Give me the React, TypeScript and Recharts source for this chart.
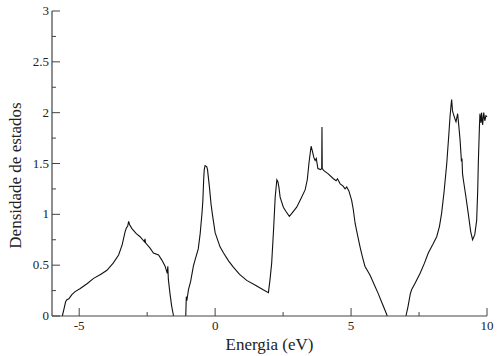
import { Label, Line, LineChart, XAxis, YAxis } from "recharts";

// energy (eV) and density of states, null marks a gap between bands
const energy = [
  -5.62, -5.55, -5.5, -5.45, -5.38, -5.27, -5.15, -4.96, -4.7, -4.47, -4.2, -3.98, -3.75, -3.55, -3.42, -3.31,
  -3.26, -3.22, -3.18, -3.15, -3.06, -2.9, -2.76, -2.6, -2.58, -2.56, -2.4, -2.27, -2.08, -1.96, -1.84, -1.76,
  -1.74, -1.72, -1.66, -1.6, -1.53, -1.3,
  -1.08, -1.06, -1.04, -0.98, -0.9, -0.8, -0.74, -0.62, -0.55, -0.48, -0.45, -0.42, -0.4, -0.37, -0.31, -0.28,
  -0.21, -0.15, -0.1, 0.0, 0.18, 0.31, 0.5, 0.67, 0.9, 1.16, 1.5, 1.75, 1.96, 2.02, 2.08, 2.15, 2.21, 2.27,
  2.31, 2.35, 2.39, 2.51, 2.6, 2.73, 2.85, 3.0, 3.15, 3.31, 3.39, 3.45, 3.53, 3.58, 3.63, 3.68, 3.72, 3.78,
  3.88, 3.92, 3.93, 3.94, 4.0, 4.15, 4.35, 4.45, 4.5, 4.6, 4.7, 4.78, 4.84, 4.92, 5.02, 5.08, 5.15, 5.25,
  5.33, 5.42, 5.51, 5.7, 5.85, 6.0, 6.15, 6.29, 6.33, 6.7,
  7.02, 7.1, 7.18, 7.23, 7.35, 7.54, 7.7, 7.84, 8.0, 8.15, 8.25, 8.33, 8.42, 8.52, 8.6, 8.64, 8.68, 8.7,
  8.73, 8.76, 8.82, 8.86, 8.92, 8.96, 9.01, 9.06, 9.08, 9.1, 9.13, 9.22, 9.31, 9.4, 9.47, 9.55, 9.62, 9.66,
  9.68, 9.72, 9.74, 9.78, 9.8, 9.84, 9.88, 9.92, 9.96, 10.0,
];

const dos = [
  0, 0.08, 0.14, 0.16, 0.17, 0.21, 0.24, 0.27, 0.32, 0.37, 0.41, 0.45, 0.52, 0.6, 0.7, 0.83,
  0.87, 0.88, 0.93, 0.9, 0.86, 0.81, 0.78, 0.73, 0.76, 0.72, 0.67, 0.62, 0.6, 0.55, 0.49, 0.42,
  0.49, 0.36, 0.22, 0.1, 0, null,
  0, 0.19, 0.15, 0.26, 0.34, 0.49, 0.55, 0.66, 0.81, 1.02, 1.14, 1.35, 1.44, 1.48, 1.47, 1.44,
  1.27, 1.1, 1.0, 0.82, 0.68, 0.62, 0.54, 0.48, 0.41, 0.35, 0.3, 0.26, 0.23, 0.36, 0.52, 0.85, 1.17, 1.34,
  1.32, 1.26, 1.17, 1.07, 1.03, 0.98, 1.02, 1.07, 1.15, 1.24, 1.34, 1.5, 1.67, 1.62, 1.56, 1.53, 1.55, 1.45,
  1.44, 1.45, 1.86, 1.45, 1.43, 1.4, 1.35, 1.33, 1.35, 1.3, 1.28, 1.25, 1.27, 1.23, 1.14, 1.05, 0.91, 0.78,
  0.68, 0.58, 0.49, 0.4, 0.31, 0.22, 0.12, 0.03, 0, null,
  0, 0.1, 0.22, 0.26, 0.32, 0.42, 0.52, 0.62, 0.7, 0.78, 0.88, 1.01, 1.22, 1.5, 1.8, 1.96, 2.08, 2.13,
  2.02, 1.99, 1.94, 1.91, 1.99, 1.88, 1.73, 1.52, 1.55, 1.4, 1.34, 1.18, 1.01, 0.83, 0.75, 0.8, 0.94, 1.25,
  1.5, 1.85, 1.99, 1.9, 2.0, 1.88, 2.0, 1.92, 1.97, 1.96,
];

const xTicks = [-5, -2.5, 0, 2.5, 5, 7.5, 10];
const yTicks = [0, 0.25, 0.5, 0.75, 1, 1.25, 1.5, 1.75, 2, 2.25, 2.5, 2.75, 3];

const data = energy.map((e, i) => ({ e, d: dos[i] }));

const tickStyle = { fontFamily: "'Liberation Serif', 'Times New Roman', serif", fontSize: 13, fill: "#222" };

const isMajor = (v: number) => Math.abs(v / 5 - Math.round(v / 5)) < 1e-6;
const isMajorY = (v: number) => Math.abs(v * 2 - Math.round(v * 2)) < 1e-6;

function BottomTick(props: any) {
  const { x, y, payload } = props;
  const major = isMajor(payload.value);
  return (
    <g>
      <line x1={x} x2={x} y1={y} y2={y - (major ? 8 : 4)} stroke="#444" strokeWidth={1} />
      {major && (
        <text x={x} y={y + 14} textAnchor="middle" style={tickStyle}>
          {payload.value}
        </text>
      )}
    </g>
  );
}

function TopTick(props: any) {
  const { x, y, payload } = props;
  const major = isMajor(payload.value);
  return <line x1={x} x2={x} y1={y} y2={y + (major ? 8 : 4)} stroke="#444" strokeWidth={1} />;
}

function LeftTick(props: any) {
  const { x, y, payload } = props;
  const major = isMajorY(payload.value);
  return (
    <g>
      <line x1={x} x2={x + (major ? 8 : 4)} y1={y} y2={y} stroke="#444" strokeWidth={1} />
      {major && (
        <text x={x - 3} y={y + 4} textAnchor="end" style={tickStyle}>
          {payload.value}
        </text>
      )}
    </g>
  );
}

function RightTick(props: any) {
  const { x, y, payload } = props;
  const major = isMajorY(payload.value);
  return <line x1={x} x2={x - (major ? 8 : 4)} y1={y} y2={y} stroke="#444" strokeWidth={1} />;
}

export default function App() {
  return (
    <div style={{ position: "absolute", left: 0, top: 0, width: 500, height: 356, background: "#fff" }}>
      <LineChart width={500} height={356} data={data} margin={{ top: 11, right: 13, left: 12, bottom: 10 }}>
        <XAxis
          dataKey="e"
          type="number"
          domain={[-6, 10]}
          ticks={xTicks}
          tickSize={0}
          tickMargin={0}
          tickLine={false}
          axisLine={{ stroke: "#444", strokeWidth: 1.2 }}
          tick={BottomTick}
          height={30}
          interval={0}
        >
          <Label
            value="Energia (eV)"
            position="insideBottom"
            offset={-4}
            style={{ fontFamily: "'Liberation Serif', serif", fontSize: 17, fill: "#222" }}
          />
        </XAxis>
        <XAxis
          xAxisId="top"
          orientation="top"
          dataKey="e"
          type="number"
          domain={[-6, 10]}
          ticks={xTicks}
          tickSize={0}
          tickMargin={0}
          tickLine={false}
          axisLine={{ stroke: "#444", strokeWidth: 1.2 }}
          tick={TopTick}
          height={0}
          interval={0}
        />
        <YAxis
          type="number"
          domain={[0, 3]}
          ticks={yTicks}
          tickSize={0}
          tickMargin={0}
          tickLine={false}
          axisLine={{ stroke: "#444", strokeWidth: 1.2 }}
          tick={LeftTick}
          width={40}
          interval={0}
        >
          <Label
            value="Densidade de estados"
            angle={-90}
            position="insideLeft"
            offset={3}
            dy={12}
            style={{ textAnchor: "middle", fontFamily: "'Liberation Serif', serif", fontSize: 17, fill: "#222" }}
          />
        </YAxis>
        <YAxis
          yAxisId="right"
          orientation="right"
          type="number"
          domain={[0, 3]}
          ticks={yTicks}
          tickSize={0}
          tickMargin={0}
          tickLine={false}
          axisLine={{ stroke: "#444", strokeWidth: 1.2 }}
          tick={RightTick}
          width={0}
          interval={0}
        />
        <Line
          dataKey="d"
          type="linear"
          stroke="#111"
          strokeWidth={1.1}
          dot={false}
          connectNulls={false}
          isAnimationActive={false}
        />
      </LineChart>
    </div>
  );
}
